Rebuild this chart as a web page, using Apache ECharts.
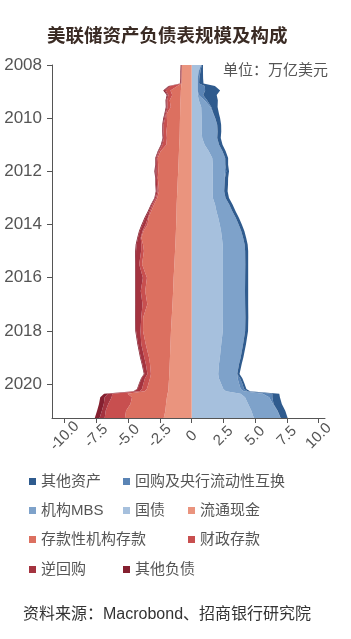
<!DOCTYPE html>
<html>
<head>
<meta charset="utf-8">
<script src="https://cdn.jsdelivr.net/npm/echarts@6/dist/echarts.min.js"></script>
<style>
  html, body { margin: 0; padding: 0; background: #fff; }
  #chart { width: 351px; height: 639px; }
</style>
</head>
<body>
<div id="chart"></div>
<script>
// 美联储资产负债表（万亿美元），右边资产，左边负债
const dates = [
  '2008-01-01', '2008-04-01', '2008-07-01', '2008-09-10', '2008-10-15', '2008-12-17',
  '2009-02-15', '2009-05-01', '2009-08-01', '2009-11-01',
  '2010-01-01', '2010-04-01', '2010-07-01', '2010-10-01',
  '2011-01-01', '2011-04-01', '2011-07-01', '2011-10-01',
  '2012-01-01', '2012-04-01', '2012-07-01', '2012-10-01',
  '2013-01-01', '2013-04-01', '2013-07-01', '2013-10-01',
  '2014-01-01', '2014-04-01', '2014-07-01', '2014-10-01',
  '2015-01-01', '2015-07-01', '2016-01-01', '2016-07-01',
  '2017-01-01', '2017-07-01', '2018-01-01', '2018-07-01',
  '2019-01-01', '2019-04-01', '2019-08-15', '2019-10-15',
  '2020-01-01', '2020-03-11', '2020-04-08', '2020-05-13', '2020-07-01', '2020-10-01',
  '2021-01-01', '2021-04-12'
];

// 资产
const treasury = [0.74, 0.55, 0.48, 0.48, 0.48, 0.48, 0.48, 0.56, 0.75, 0.77,
  0.78, 0.78, 0.78, 0.83, 1.02, 1.35, 1.62, 1.66, 1.67, 1.66, 1.65, 1.65,
  1.67, 1.84, 1.95, 2.09, 2.21, 2.31, 2.38, 2.44, 2.46, 2.46, 2.46, 2.46,
  2.46, 2.46, 2.45, 2.33, 2.22, 2.15, 2.09, 2.14, 2.33, 2.49, 2.70, 3.85,
  4.20, 4.45, 4.70, 4.90];
const mbs = [0, 0, 0, 0, 0, 0, 0.07, 0.45, 0.72, 0.92,
  1.07, 1.23, 1.26, 1.18, 1.14, 1.08, 1.02, 0.98, 0.95, 0.93, 0.92, 0.91,
  1.00, 1.12, 1.25, 1.38, 1.49, 1.59, 1.67, 1.73, 1.75, 1.76, 1.75, 1.74,
  1.75, 1.77, 1.76, 1.72, 1.64, 1.58, 1.50, 1.47, 1.41, 1.37, 1.40, 1.75,
  1.90, 1.95, 2.05, 2.10];
const repoSwap = [0.05, 0.14, 0.12, 0.10, 0.55, 0.58, 0.35, 0.20, 0.07, 0.03,
  0.01, 0, 0, 0, 0, 0, 0, 0.01, 0.10, 0.03, 0.02, 0,
  0, 0, 0, 0, 0, 0, 0, 0, 0, 0, 0, 0,
  0, 0, 0, 0, 0, 0, 0, 0.20, 0.26, 0.26, 0.30, 0.75,
  0.25, 0.05, 0.02, 0.01];
const otherAssets = [0.10, 0.20, 0.30, 0.35, 0.80, 1.18, 1.07, 0.85, 0.50, 0.43,
  0.38, 0.31, 0.29, 0.28, 0.27, 0.25, 0.23, 0.22, 0.22, 0.25, 0.27, 0.27,
  0.27, 0.26, 0.26, 0.25, 0.25, 0.25, 0.24, 0.24, 0.24, 0.23, 0.24, 0.25,
  0.24, 0.23, 0.23, 0.23, 0.21, 0.21, 0.18, 0.18, 0.17, 0.19, 0.20, 0.55,
  0.60, 0.65, 0.60, 0.55];

// 负债（负值）
const currency = [-0.76, -0.78, -0.79, -0.80, -0.82, -0.85, -0.86, -0.88, -0.90, -0.91,
  -0.92, -0.93, -0.94, -0.95, -0.98, -1.00, -1.02, -1.04, -1.06, -1.09, -1.11, -1.13,
  -1.16, -1.18, -1.19, -1.20, -1.22, -1.24, -1.26, -1.28, -1.31, -1.36, -1.42, -1.46,
  -1.51, -1.57, -1.63, -1.67, -1.71, -1.73, -1.76, -1.78, -1.81, -1.83, -1.85, -1.90,
  -1.95, -2.02, -2.07, -2.20];
const bankDeposits = [-0.01, -0.01, -0.01, -0.01, -0.30, -0.82, -0.67, -0.85, -0.75, -1.05,
  -1.03, -1.00, -1.05, -1.00, -1.02, -1.45, -1.65, -1.60, -1.57, -1.58, -1.50, -1.45,
  -1.55, -1.78, -2.00, -2.20, -2.25, -2.55, -2.70, -2.55, -2.45, -2.55, -2.10, -2.20,
  -1.98, -2.25, -2.20, -1.95, -1.65, -1.55, -1.45, -1.50, -1.60, -1.70, -1.85, -3.15,
  -2.75, -2.80, -3.10, -3.05];
const treasuryDeposits = [-0.01, -0.01, -0.01, -0.01, -0.55, -0.37, -0.30, -0.20, -0.25, -0.07,
  -0.15, -0.28, -0.23, -0.23, -0.30, -0.12, -0.08, -0.10, -0.12, -0.07, -0.12, -0.10,
  -0.10, -0.12, -0.10, -0.05, -0.16, -0.08, -0.05, -0.14, -0.22, -0.22, -0.32, -0.35,
  -0.38, -0.15, -0.20, -0.35, -0.37, -0.33, -0.27, -0.40, -0.40, -0.38, -0.40, -1.20,
  -1.60, -1.75, -1.60, -1.60];
const reverseRepo = [-0.04, -0.04, -0.04, -0.05, -0.10, -0.09, -0.07, -0.07, -0.07, -0.07,
  -0.07, -0.06, -0.06, -0.06, -0.07, -0.06, -0.07, -0.08, -0.10, -0.08, -0.08, -0.10,
  -0.08, -0.09, -0.10, -0.20, -0.25, -0.22, -0.22, -0.37, -0.40, -0.26, -0.55, -0.38,
  -0.52, -0.43, -0.35, -0.25, -0.28, -0.27, -0.24, -0.26, -0.31, -0.35, -0.45, -0.35,
  -0.55, -0.35, -0.30, -0.40];
const otherLiab = [-0.05, -0.05, -0.05, -0.06, -0.06, -0.11, -0.07, -0.06, -0.07, -0.05,
  -0.07, -0.05, -0.05, -0.05, -0.06, -0.05, -0.05, -0.05, -0.09, -0.05, -0.05, -0.05,
  -0.05, -0.05, -0.07, -0.07, -0.07, -0.06, -0.06, -0.07, -0.07, -0.06, -0.06, -0.06,
  -0.06, -0.06, -0.06, -0.06, -0.06, -0.06, -0.05, -0.05, -0.05, -0.05, -0.05, -0.30,
  -0.35, -0.38, -0.38, -0.38];

const valueTicks = [-10, -7.5, -5, -2.5, 0, 2.5, 5, 7.5, 10];

const START = '2008-01-01';
const END = '2021-04-12';
const FONT = "'Liberation Sans', 'Noto Sans CJK SC', sans-serif";

const chart = echarts.init(document.getElementById('chart'));

function area(name, values, color, stack) {
    return {
        name: name,
        type: 'line',
        stack: stack,
        yAxisIndex: 0,
        data: dates.map((d, i) => [values[i], d]),
        symbol: 'none',
        showSymbol: false,
        lineStyle: { width: 0 },
        itemStyle: { color: color },
        areaStyle: { color: color, opacity: 1 },
        emphasis: { disabled: true },
        silent: true
    };
}

const series = [
    area('国债', treasury, '#a6c0dd', 'asset'),
    area('机构MBS', mbs, '#7ea2ca', 'asset'),
    area('回购及央行流动性互换', repoSwap, '#5a84b5', 'asset'),
    area('其他资产', otherAssets, '#2f5b8e', 'asset'),
    area('流通现金', currency, '#ea947e', 'liab'),
    area('存款性机构存款', bankDeposits, '#dc7060', 'liab'),
    area('财政存款', treasuryDeposits, '#c84f4f', 'liab'),
    area('逆回购', reverseRepo, '#a4333f', 'liab'),
    area('其他负债', otherLiab, '#852030', 'liab')
];

// 图例位置（每项一个）
const legendPos = [
    ['其他资产', 29, 474], ['回购及央行流动性互换', 123, 474],
    ['机构MBS', 29, 503], ['国债', 123, 503], ['流通现金', 188, 503],
    ['存款性机构存款', 29, 532], ['财政存款', 188, 532],
    ['逆回购', 29, 562], ['其他负债', 123, 562]
];

// 年份刻度用一根数值轴，和时间轴同范围
const dayMs = 24 * 3600 * 1000;
const yearEnd = 2008 + (new Date(END) - new Date(START)) / dayMs / 365.25;

const option = {
    animation: false,
    backgroundColor: '#fff',
    textStyle: { fontFamily: FONT },
    title: {
        text: '美联储资产负债表规模及构成',
        left: 42,
        top: 23,
        textStyle: { fontSize: 18.5, fontWeight: 'bold', color: '#3a2b24', fontFamily: FONT }
    },
    legend: legendPos.map(p => ({
        data: [p[0]],
        left: p[1],
        top: p[2],
        padding: 0,
        icon: 'rect',
        itemWidth: 7,
        itemHeight: 7,
        selectedMode: false,
        textStyle: { fontSize: 15, color: '#555', fontFamily: FONT }
    })),
    grid: { left: 52, right: 26, top: 65, bottom: 221, containLabel: false, outerBoundsMode: 'none' },
    xAxis: {
        type: 'value',
        min: -11,
        max: 10.5,
        splitLine: { show: false },
        axisLine: { show: true, onZero: false, lineStyle: { color: '#555' } },
        axisTick: { show: true, length: 5, customValues: valueTicks, lineStyle: { color: '#555' } },
        axisLabel: {
            customValues: valueTicks,
            rotate: 45,
            align: 'center',
            verticalAlign: 'middle',
            fontSize: 15,
            color: '#555',
            margin: 18,
            formatter: v => v === 0 ? '0' : v.toFixed(1)
        }
    },
    yAxis: [
        {
            type: 'time',
            inverse: true,
            min: START,
            max: END,
            show: false
        },
        {
            type: 'value',
            position: 'left',
            inverse: true,
            min: 2008,
            max: yearEnd,
            interval: 2,
            splitLine: { show: false },
            axisLine: { show: true, onZero: false, lineStyle: { color: '#555' } },
            axisTick: { show: true, length: 5, lineStyle: { color: '#555' } },
            axisLabel: {
                fontSize: 17,
                color: '#555',
                margin: 10,
                showMaxLabel: false,
                formatter: v => String(v)
            }
        }
    ],
    graphic: [
        {
            type: 'text', left: 223, top: 63,
            style: { text: '单位：万亿美元', fontSize: 15, fill: '#555', fontFamily: FONT }
        },
        {
            type: 'text', left: 23, top: 607,
            style: { text: '资料来源：Macrobond、招商银行研究院', fontSize: 16, fill: '#333', fontFamily: FONT }
        }
    ],
    series: series
};

chart.setOption(option);
</script>
</body>
</html>
